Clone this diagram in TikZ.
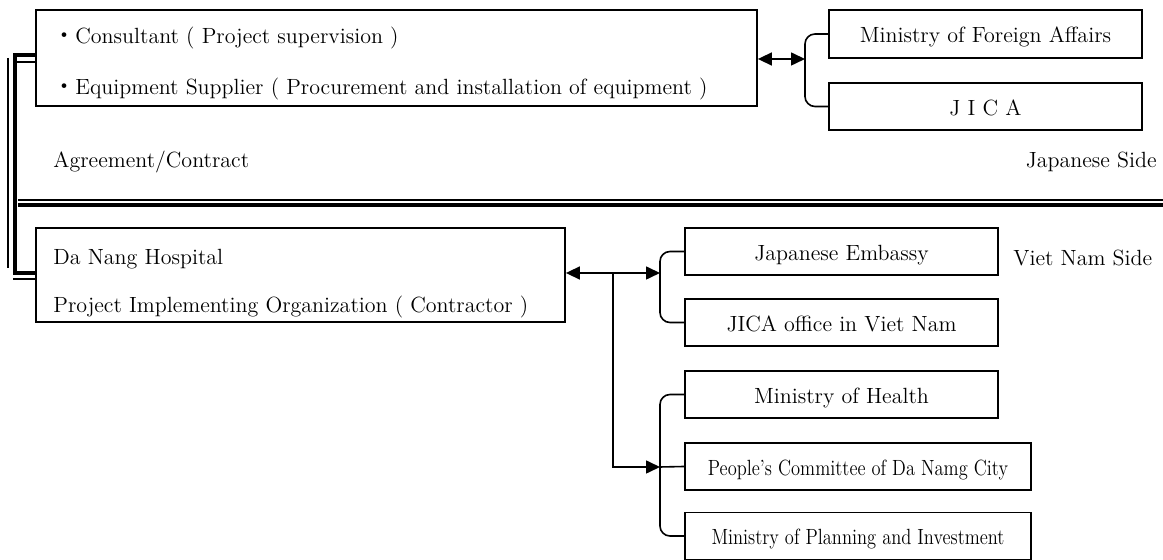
\documentclass[tikz,border=0pt]{standalone}
\usepackage{fontspec}
\newfontfamily\cjk{Noto Sans CJK JP}
\usetikzlibrary{arrows.meta}
\newcommand{\narrowtxt}[1]{\scalebox{0.84}[1]{#1}}
\begin{document}
\begin{tikzpicture}[x=0.5pt,y=-0.5pt,
  >={Triangle[length=7pt,width=6.5pt]},
  every node/.style={font=\fontsize{11}{13}\selectfont},
  box/.style={draw, line width=0.9pt, inner sep=0pt, minimum width=156.5pt, minimum height=23.5pt, text height=9.6pt, text depth=0.8pt},
  wbox/.style={box, minimum width=173pt},
  conn/.style={line width=0.8pt},
  lbl/.style={anchor=mid west, inner sep=0pt},
  rlbl/.style={anchor=mid east, inner sep=0pt},
  sep/.style={line width=0.6pt}]
\useasboundingbox (0,0) rectangle (1163,560);
% top side
\node[box, minimum width=360.5pt, minimum height=48pt] (sup) at (396.5,58) {};
\node[lbl] (t1) at (53,39) {{\cjk ・}Consultant ( Project supervision )};
\node[lbl] (t2) at (53,90) {{\cjk ・}Equipment Supplier ( Procurement and installation of equipment )};
\node[box, minimum height=24pt] (mfa) at (985.5,34) {Ministry of Foreign Affairs};
\node[box] (jica) at (985.5,106.5) {J I C A};
\node[lbl] (ag) at (53,163) {Agreement/Contract};
\node[rlbl] (js) at (1157,163) {Japanese Side};
% bottom side
\node[box, minimum width=264.5pt, minimum height=47pt] (dn) at (300.5,275) {};
\node[lbl] (d1) at (53,260) {Da Nang Hospital};
\node[lbl] (d2) at (53,308) {Project Implementing Organization ( Contractor )};
\node[lbl] (vs) at (1013,261) {Viet Nam Side};
\node[box] (je) at (841.5,251.5) {Japanese Embassy};
\node[box] (jov) at (841.5,322.5) {JICA office in Viet Nam};
\node[box] (moh) at (841.5,394.5) {Ministry of Health};
\node[wbox] (pc) at (858,466.5) {\narrowtxt{People’s Committee of Da Namg City}};
\node[wbox] (mpi) at (858,536) {\narrowtxt{Ministry of Planning and Investment}};
% separator
\draw[sep] (18,200) -- (1163,200);
\draw[line width=1.6pt] (18,205) -- (1163,205);
% left double bracket
\coordinate (ka) at (15,55);
\coordinate (kb) at (15,273);
\coordinate (kc) at (17,62);
\coordinate (kd) at (13,279);
\draw[line width=2.3pt] (sup.west |- ka) -- (ka) -- (kb) -- (dn.west |- kb);
\draw[sep] (8,58) -- (8,268);
\draw[sep] (kc) -- (sup.west |- kc);
\draw[sep] (kd) -- (dn.west |- kd);
% top connectors
\coordinate (bj0) at (805,59);
\draw[conn,<->] (sup.east |- bj0) -- (bj0);
\draw[conn, rounded corners=5pt] (mfa.west) -- (mfa.west -| bj0) -- (jica.west -| bj0) -- (jica.west);
% bottom connectors
\coordinate (bv1) at (660,273);
\coordinate (bj) at (613,273);
\coordinate (bv2) at (660,467);
\draw[conn,<->] (dn.east |- bv1) -- (bv1);
\draw[conn,->] (bj) |- (bv2);
\draw[conn, rounded corners=5pt] (je.west) -- (je.west -| bv1) -- (jov.west -| bv1) -- (jov.west);
\draw[conn, rounded corners=5pt] (moh.west) -- (moh.west -| bv2) -- (mpi.west -| bv2) -- (mpi.west);
\draw[conn] (bv2) -- (pc.west);
\end{tikzpicture}
\end{document}
